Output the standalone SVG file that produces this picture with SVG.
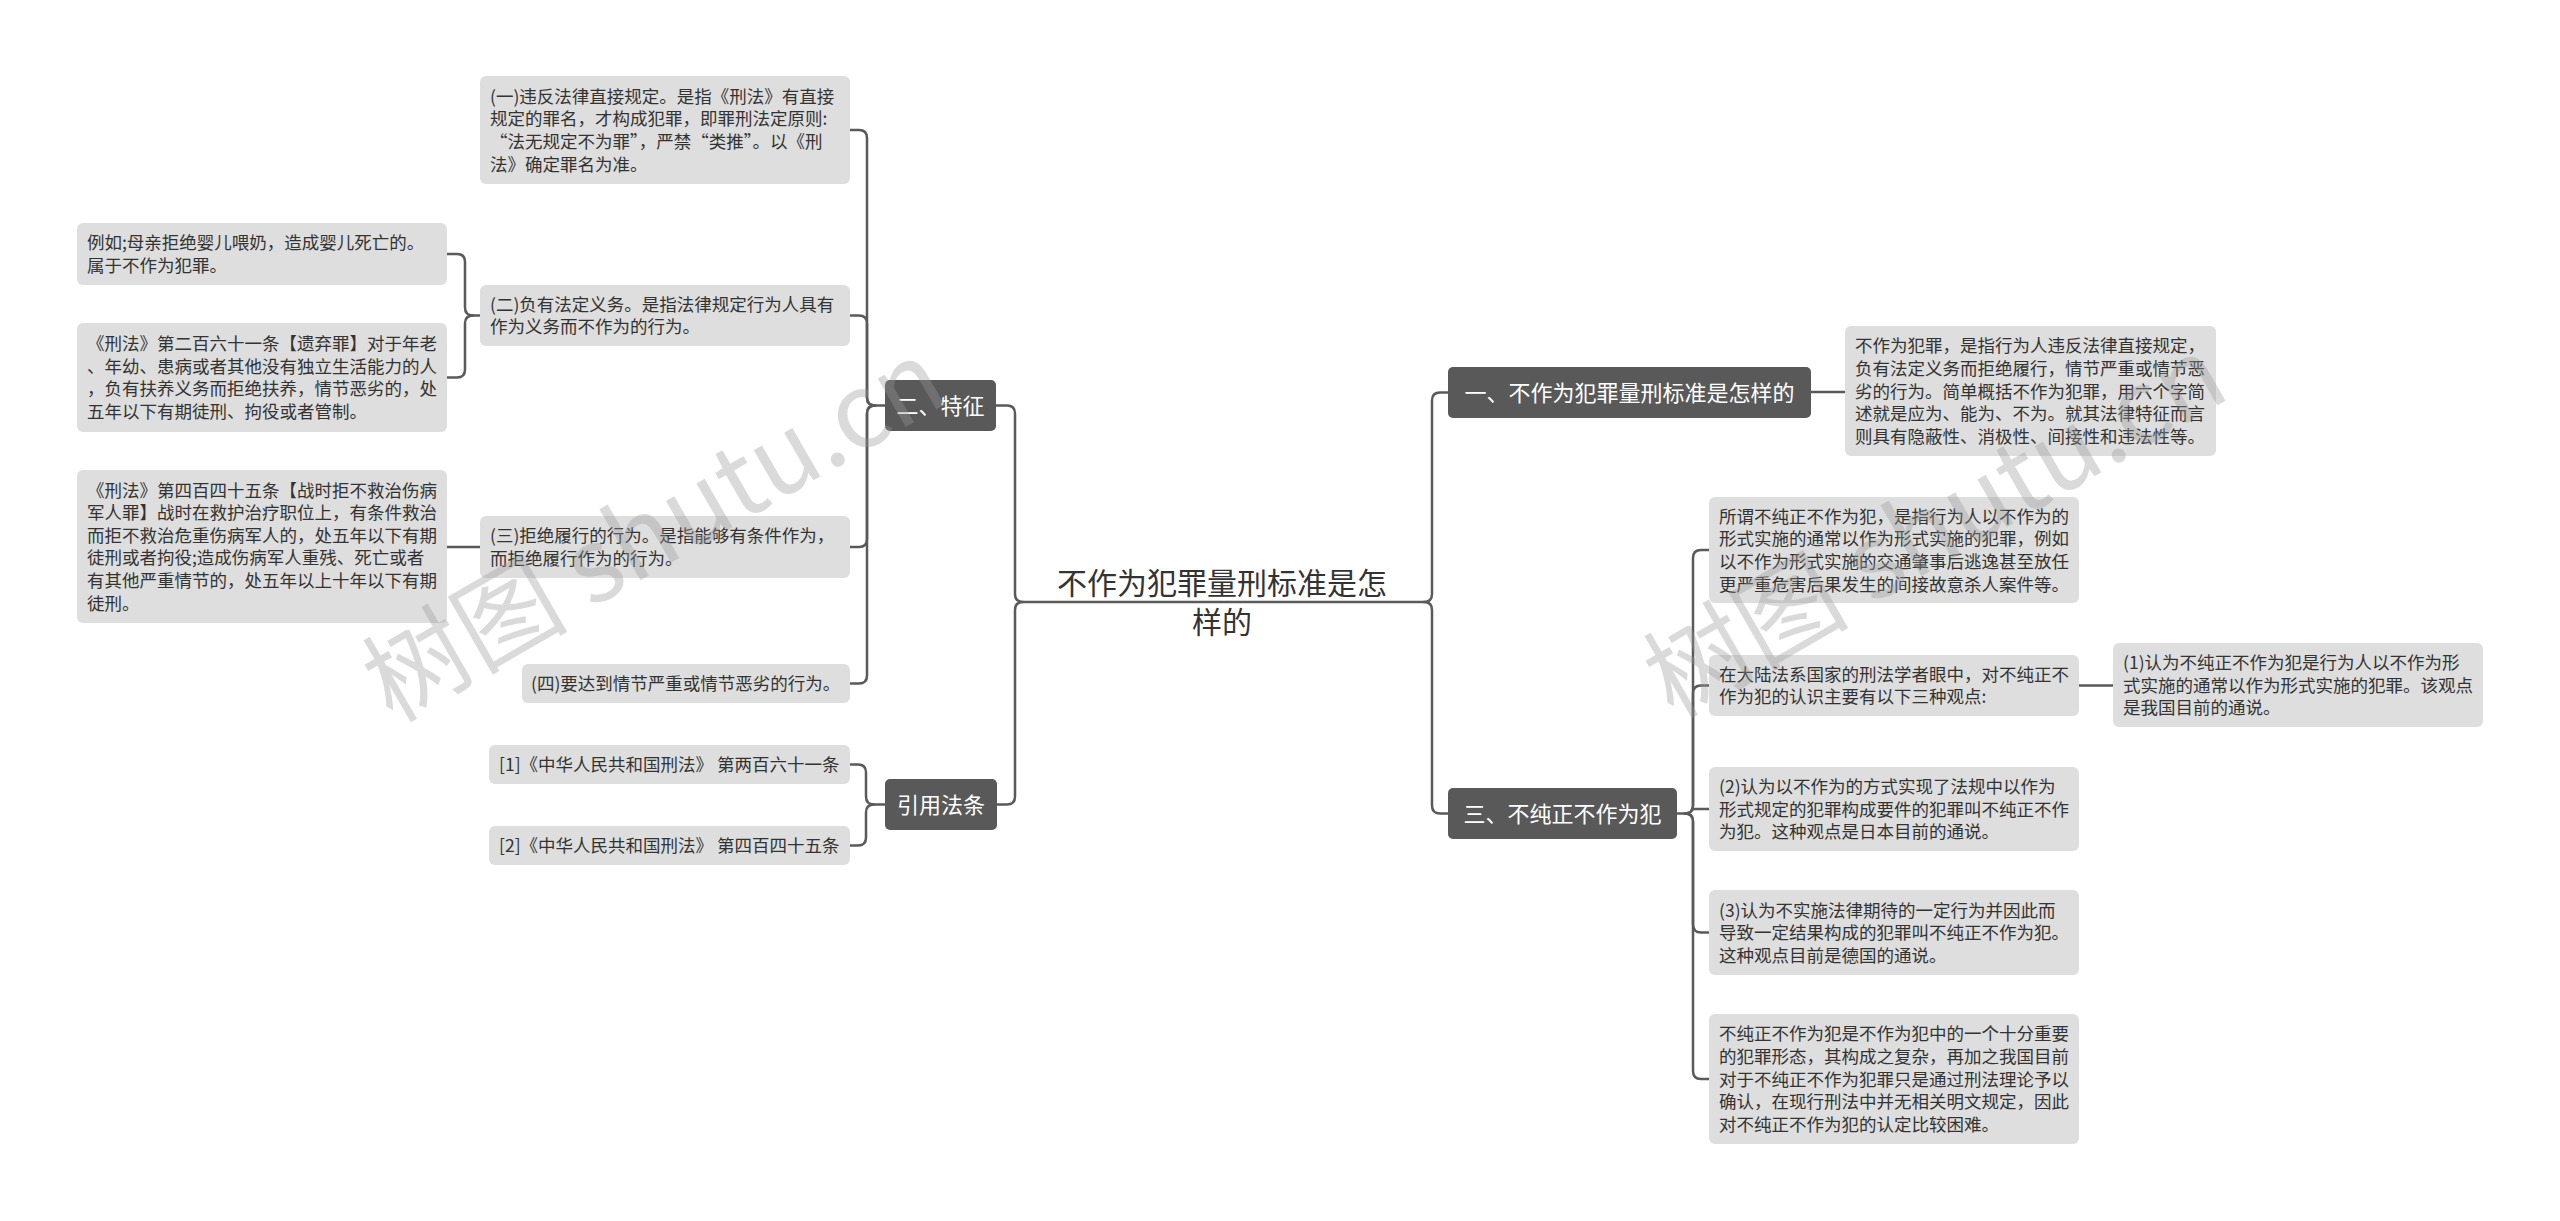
<svg xmlns="http://www.w3.org/2000/svg" width="2560" height="1221" viewBox="0 0 2560 1221">
<style>
.bg{fill:#ffffff}
.lb{fill:#dedede}
.db{fill:#595959}
.t{font-family:"Noto Sans CJK SC","Noto Sans",sans-serif;font-size:17.5px;fill:#333333}
.dt{font-family:"Noto Sans CJK SC","Noto Sans",sans-serif;font-size:22px;fill:#ffffff;text-anchor:middle}
.ct{font-family:"Noto Sans CJK SC","Noto Sans",sans-serif;font-size:30px;fill:#333333;text-anchor:middle}
.c{fill:none;stroke:#5a5a5a;stroke-width:2.5;stroke-linecap:round}
.wm{font-family:"Noto Sans CJK SC","Noto Sans",sans-serif;font-size:103px;fill:#999999;fill-opacity:0.36}
</style>
<rect class="bg" x="0" y="0" width="2560" height="1221"/>
<g id="connectors">
<path class="c" d="M 996 405.5 H 1007 Q 1015 405.5 1015 413.5 V 594 Q 1015 602 1023 602 H 1424 Q 1432 602 1432 594 V 400.5 Q 1432 392.5 1440 392.5 H 1448"/>
<path class="c" d="M 997 804.5 H 1007 Q 1015 804.5 1015 796.5 V 610 Q 1015 602 1023 602"/>
<path class="c" d="M 1424 602 Q 1432 602 1432 610 V 805.5 Q 1432 813.5 1440 813.5 H 1448"/>
<path class="c" d="M 885 405.5 H 875 Q 867 405.5 867 397.5 V 138 Q 867 130 859 130 H 850"/>
<path class="c" d="M 875 405.5 Q 867 405.5 867 397.5 V 323.5 Q 867 315.5 859 315.5 H 850"/>
<path class="c" d="M 875 405.5 Q 867 405.5 867 413.5 V 539 Q 867 547 859 547 H 850"/>
<path class="c" d="M 875 405.5 Q 867 405.5 867 413.5 V 675.5 Q 867 683.5 859 683.5 H 850"/>
<path class="c" d="M 480 315.5 H 473 Q 465 315.5 465 307.5 V 262 Q 465 254 457 254 H 447"/>
<path class="c" d="M 473 315.5 Q 465 315.5 465 323.5 V 369.5 Q 465 377.5 457 377.5 H 447"/>
<path class="c" d="M 480 547 H 447"/>
<path class="c" d="M 885 804.5 H 874 Q 866 804.5 866 796.5 V 772.5 Q 866 764.5 858 764.5 H 850"/>
<path class="c" d="M 874 804.5 Q 866 804.5 866 812.5 V 837.5 Q 866 845.5 858 845.5 H 850"/>
<path class="c" d="M 1811 392 H 1845"/>
<path class="c" d="M 1677 813.5 H 1685 Q 1693 813.5 1693 805.5 V 558 Q 1693 550 1701 550 H 1709"/>
<path class="c" d="M 1685 813.5 Q 1693 813.5 1693 805.5 V 693.5 Q 1693 685.5 1701 685.5 H 1709"/>
<path class="c" d="M 1693 809 H 1709"/>
<path class="c" d="M 1685 813.5 Q 1693 813.5 1693 821.5 V 924.5 Q 1693 932.5 1701 932.5 H 1709"/>
<path class="c" d="M 1685 813.5 Q 1693 813.5 1693 821.5 V 1071 Q 1693 1079 1701 1079 H 1709"/>
<path class="c" d="M 2079 685.5 H 2113"/>
</g>
<g id="center">
<text class="ct"><tspan x="1222" y="594">不作为犯罪量刑标准是怎</tspan><tspan x="1222" y="633">样的</tspan></text>
</g>
<g id="n-tezheng">
<rect class="db" x="885" y="380" width="111" height="51" rx="5"/>
<text class="dt" x="940.5" y="413.5">二、特征</text>
</g>
<g id="n-yinyong">
<rect class="db" x="885" y="779" width="112" height="51" rx="5"/>
<text class="dt" x="941" y="812.5">引用法条</text>
</g>
<g id="n-one">
<rect class="db" x="1448" y="367" width="363" height="51" rx="5"/>
<text class="dt" x="1629.5" y="400.5">一、不作为犯罪量刑标准是怎样的</text>
</g>
<g id="n-three">
<rect class="db" x="1448" y="788" width="229" height="51" rx="5"/>
<text class="dt" x="1562.5" y="821.5">三、不纯正不作为犯</text>
</g>
<g id="n-l1">
<rect class="lb" x="480" y="76" width="370" height="108" rx="6"/>
<text class="t"><tspan x="490" y="102.7">(一)违反法律直接规定。是指《刑法》有直接</tspan><tspan x="490" y="125.3">规定的罪名，才构成犯罪，即罪刑法定原则:</tspan><tspan x="490" y="147.9">“法无规定不为罪”，严禁“类推”。以《刑</tspan><tspan x="490" y="170.5">法》确定罪名为准。</tspan></text>
</g>
<g id="n-l2">
<rect class="lb" x="480" y="285" width="370" height="61" rx="6"/>
<text class="t"><tspan x="490" y="310.8">(二)负有法定义务。是指法律规定行为人具有</tspan><tspan x="490" y="333.4">作为义务而不作为的行为。</tspan></text>
</g>
<g id="n-l2a">
<rect class="lb" x="77" y="223" width="370" height="62" rx="6"/>
<text class="t"><tspan x="87" y="249.3">例如;母亲拒绝婴儿喂奶，造成婴儿死亡的。</tspan><tspan x="87" y="271.9">属于不作为犯罪。</tspan></text>
</g>
<g id="n-l2b">
<rect class="lb" x="77" y="323" width="370" height="109" rx="6"/>
<text class="t"><tspan x="87" y="350.2">《刑法》第二百六十一条【遗弃罪】对于年老</tspan><tspan x="87" y="372.8">、年幼、患病或者其他没有独立生活能力的人</tspan><tspan x="87" y="395.4">，负有扶养义务而拒绝扶养，情节恶劣的，处</tspan><tspan x="87" y="418">五年以下有期徒刑、拘役或者管制。</tspan></text>
</g>
<g id="n-l3">
<rect class="lb" x="480" y="516" width="370" height="62" rx="6"/>
<text class="t"><tspan x="490" y="542.3">(三)拒绝履行的行为。是指能够有条件作为，</tspan><tspan x="490" y="564.9">而拒绝履行作为的行为。</tspan></text>
</g>
<g id="n-l3a">
<rect class="lb" x="77" y="470" width="370" height="153" rx="6"/>
<text class="t"><tspan x="87" y="496.6">《刑法》第四百四十五条【战时拒不救治伤病</tspan><tspan x="87" y="519.2">军人罪】战时在救护治疗职位上，有条件救治</tspan><tspan x="87" y="541.8">而拒不救治危重伤病军人的，处五年以下有期</tspan><tspan x="87" y="564.4">徒刑或者拘役;造成伤病军人重残、死亡或者</tspan><tspan x="87" y="587">有其他严重情节的，处五年以上十年以下有期</tspan><tspan x="87" y="609.6">徒刑。</tspan></text>
</g>
<g id="n-l4">
<rect class="lb" x="522" y="664" width="328" height="39" rx="6"/>
<text class="t" x="531" y="690.1">(四)要达到情节严重或情节恶劣的行为。</text>
</g>
<g id="n-r1">
<rect class="lb" x="489" y="745" width="361" height="39" rx="6"/>
<text class="t" x="499" y="771.1">[1]《中华人民共和国刑法》 第两百六十一条</text>
</g>
<g id="n-r2">
<rect class="lb" x="489" y="826" width="361" height="39" rx="6"/>
<text class="t" x="499" y="852.1">[2]《中华人民共和国刑法》 第四百四十五条</text>
</g>
<g id="n-one-a">
<rect class="lb" x="1845" y="326" width="371" height="130" rx="6"/>
<text class="t"><tspan x="1855" y="352.4">不作为犯罪，是指行为人违反法律直接规定，</tspan><tspan x="1855" y="375">负有法定义务而拒绝履行，情节严重或情节恶</tspan><tspan x="1855" y="397.6">劣的行为。简单概括不作为犯罪，用六个字简</tspan><tspan x="1855" y="420.2">述就是应为、能为、不为。就其法律特征而言</tspan><tspan x="1855" y="442.8">则具有隐蔽性、消极性、间接性和违法性等。</tspan></text>
</g>
<g id="n-t1">
<rect class="lb" x="1709" y="497" width="370" height="106" rx="6"/>
<text class="t"><tspan x="1719" y="522.7">所谓不纯正不作为犯，是指行为人以不作为的</tspan><tspan x="1719" y="545.3">形式实施的通常以作为形式实施的犯罪，例如</tspan><tspan x="1719" y="567.9">以不作为形式实施的交通肇事后逃逸甚至放任</tspan><tspan x="1719" y="590.5">更严重危害后果发生的间接故意杀人案件等。</tspan></text>
</g>
<g id="n-t2">
<rect class="lb" x="1709" y="655" width="370" height="61" rx="6"/>
<text class="t"><tspan x="1719" y="680.8">在大陆法系国家的刑法学者眼中，对不纯正不</tspan><tspan x="1719" y="703.4">作为犯的认识主要有以下三种观点:</tspan></text>
</g>
<g id="n-t2a">
<rect class="lb" x="2113" y="643" width="370" height="84" rx="6"/>
<text class="t"><tspan x="2123" y="669">(1)认为不纯正不作为犯是行为人以不作为形</tspan><tspan x="2123" y="691.6">式实施的通常以作为形式实施的犯罪。该观点</tspan><tspan x="2123" y="714.2">是我国目前的通说。</tspan></text>
</g>
<g id="n-t3">
<rect class="lb" x="1709" y="767" width="370" height="84" rx="6"/>
<text class="t"><tspan x="1719" y="793">(2)认为以不作为的方式实现了法规中以作为</tspan><tspan x="1719" y="815.6">形式规定的犯罪构成要件的犯罪叫不纯正不作</tspan><tspan x="1719" y="838.2">为犯。这种观点是日本目前的通说。</tspan></text>
</g>
<g id="n-t4">
<rect class="lb" x="1709" y="890" width="370" height="85" rx="6"/>
<text class="t"><tspan x="1719" y="916.5">(3)认为不实施法律期待的一定行为并因此而</tspan><tspan x="1719" y="939.1">导致一定结果构成的犯罪叫不纯正不作为犯。</tspan><tspan x="1719" y="961.7">这种观点目前是德国的通说。</tspan></text>
</g>
<g id="n-t5">
<rect class="lb" x="1709" y="1014" width="370" height="130" rx="6"/>
<text class="t"><tspan x="1719" y="1040.4">不纯正不作为犯是不作为犯中的一个十分重要</tspan><tspan x="1719" y="1063">的犯罪形态，其构成之复杂，再加之我国目前</tspan><tspan x="1719" y="1085.6">对于不纯正不作为犯罪只是通过刑法理论予以</tspan><tspan x="1719" y="1108.2">确认，在现行刑法中并无相关明文规定，因此</tspan><tspan x="1719" y="1130.8">对不纯正不作为犯的认定比较困难。</tspan></text>
</g>
<g id="watermarks">
<text class="wm" x="0" y="0" text-anchor="middle" transform="translate(672 562) rotate(-30)">树图 shutu.cn</text>
<text class="wm" x="0" y="0" text-anchor="middle" transform="translate(1953 558) rotate(-30)">树图 shutu.cn</text>
</g>
</svg>
